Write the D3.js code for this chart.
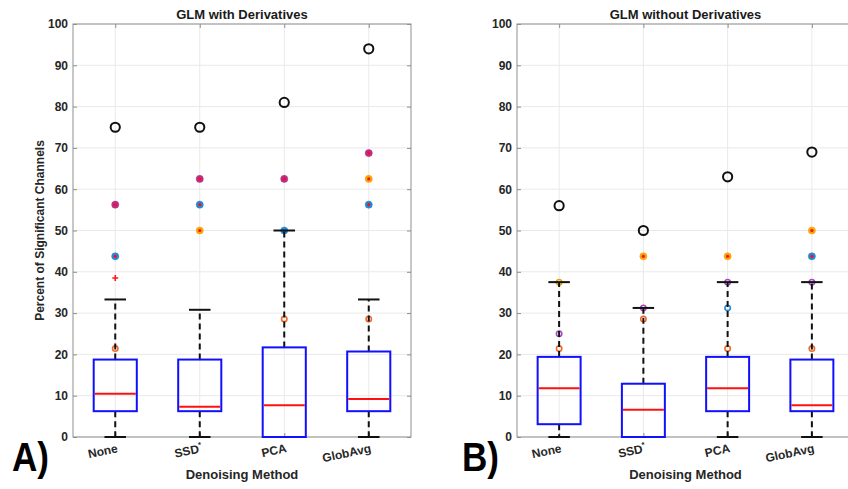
<!DOCTYPE html>
<html>
<head>
<meta charset="utf-8">
<script src="https://cdn.jsdelivr.net/npm/d3@7"></script>
<style>
html,body{margin:0;padding:0;background:#fff;}
svg text{font-family:"Liberation Sans",Arial,Helvetica,sans-serif;font-weight:bold;}
</style>
</head>
<body>
<svg id="chart" width="848" height="489"></svg>
<script>
// ---------- DATA ----------
const categories = ["None", "SSD", "PCA", "GlobAvg"];
const yTicks = [0, 10, 20, 30, 40, 50, 60, 70, 80, 90, 100];

// Panel A: GLM with Derivatives
const withLowWhisker  = [0, 0, 0, 0];
const withQ1          = [6.25, 6.25, 0, 6.25];
const withMedian      = [10.5, 7.3, 7.7, 9.2];
const withQ3          = [18.75, 18.75, 21.7, 20.7];
const withHighWhisker = [33.3, 30.8, 50, 33.3];
const withMarkers = [
  ["None", 75, "max"], ["None", 56.25, "magenta"], ["None", 43.75, "blue"], ["None", 38.5, "plus"], ["None", 21.4, "orangeOpen"],
  ["SSD", 75, "max"], ["SSD", 62.5, "magenta"], ["SSD", 56.25, "blue"], ["SSD", 50, "orange"],
  ["PCA", 81, "max"], ["PCA", 62.5, "magenta"], ["PCA", 50, "blueNoCenter"], ["PCA", 28.6, "orangeOpen"],
  ["GlobAvg", 94, "max"], ["GlobAvg", 68.75, "magenta"], ["GlobAvg", 62.5, "orange"], ["GlobAvg", 56.25, "blue"], ["GlobAvg", 28.6, "orangeOpen"]
];

// Panel B: GLM without Derivatives
const withoutLowWhisker  = [0, 0, 0, 0];
const withoutQ1          = [3.1, 0, 6.25, 6.25];
const withoutMedian      = [11.8, 6.6, 11.8, 7.7];
const withoutQ3          = [19.4, 12.9, 19.4, 18.75];
const withoutHighWhisker = [37.5, 31.25, 37.5, 37.5];
const withoutMarkers = [
  ["None", 56, "max"], ["None", 37.5, "yellowOpen"], ["None", 25, "purpleOpen"], ["None", 21.4, "orangeOpen"],
  ["SSD", 50, "max"], ["SSD", 43.75, "orange"], ["SSD", 31.25, "purpleOpen"], ["SSD", 28.6, "orangeOpen"],
  ["PCA", 63, "max"], ["PCA", 43.75, "orange"], ["PCA", 37.5, "purpleOpen"], ["PCA", 31.25, "blueOpen"], ["PCA", 21.4, "orangeOpen"],
  ["GlobAvg", 69, "max"], ["GlobAvg", 50, "orange"], ["GlobAvg", 43.75, "blue"], ["GlobAvg", 37.5, "purpleOpen"], ["GlobAvg", 21.4, "orangeOpen"]
];

// ---------- STYLE ----------
const markerStyle = {
  max:          {r: 4.6, fill: "none", stroke: "#111", sw: 2, center: false},
  magenta:      {r: 3.6, fill: "#b3318f", stroke: "#b3318f", sw: 0.5, center: true},
  blue:         {r: 3.6, fill: "#2389d6", stroke: "#2389d6", sw: 0.5, center: true},
  blueNoCenter: {r: 3.6, fill: "#2389d6", stroke: "#2389d6", sw: 0.5, center: false},
  orange:       {r: 3.6, fill: "#f7a608", stroke: "#f7a608", sw: 0.5, center: true},
  orangeOpen:   {r: 2.7, fill: "none", stroke: "#f06a2c", sw: 1.6, center: false},
  purpleOpen:   {r: 2.7, fill: "none", stroke: "#a44cbd", sw: 1.6, center: false},
  blueOpen:     {r: 2.7, fill: "none", stroke: "#2389d6", sw: 1.6, center: false},
  yellowOpen:   {r: 2.7, fill: "none", stroke: "#e6a400", sw: 1.6, center: false}
};

const svg = d3.select("#chart");

function drawPanel(p) {
  const x = d3.scalePoint().domain(categories).range([p.left, p.right]).padding(0.5);
  const y = d3.scaleLinear().domain([0, 100]).range([p.bottom, p.top]);
  const step = x.step();
  const boxHalf = step * 0.255;
  const capHalf = boxHalf * 0.5;
  const g = svg.append("g");

  // grid
  g.append("g").selectAll("line").data(yTicks).join("line")
    .attr("x1", p.left).attr("x2", p.right)
    .attr("y1", d => y(d)).attr("y2", d => y(d))
    .attr("stroke", "#e9e9e9").attr("stroke-width", 1);
  g.append("g").selectAll("line").data(categories).join("line")
    .attr("x1", d => x(d)).attr("x2", d => x(d))
    .attr("y1", p.top).attr("y2", p.bottom)
    .attr("stroke", "#e9e9e9").attr("stroke-width", 1);

  // frame
  g.append("rect").attr("x", p.left).attr("y", p.top)
    .attr("width", p.right - p.left).attr("height", p.bottom - p.top)
    .attr("fill", "none").attr("stroke", "#8f8f8f").attr("stroke-width", 1);

  // axes (MATLAB-style inward ticks)
  const yAxis = d3.axisLeft(y).tickValues(yTicks).tickSizeInner(-4).tickSizeOuter(0).tickPadding(5);
  const ay = g.append("g").attr("transform", `translate(${p.left},0)`).call(yAxis);
  ay.select(".domain").remove();
  ay.selectAll(".tick line").attr("stroke", "#8f8f8f");
  ay.selectAll(".tick text").attr("fill", "#262626").style("font-size", "12px");

  const yAxisR = d3.axisRight(y).tickValues(yTicks).tickSizeInner(-4).tickSizeOuter(0).tickFormat("");
  const ayr = g.append("g").attr("transform", `translate(${p.right},0)`).call(yAxisR);
  ayr.select(".domain").remove();
  ayr.selectAll(".tick line").attr("stroke", "#8f8f8f");

  const xAxisT = d3.axisTop(x).tickSizeInner(-4).tickSizeOuter(0).tickFormat("");
  const axt = g.append("g").attr("transform", `translate(0,${p.top})`).call(xAxisT);
  axt.select(".domain").remove();
  axt.selectAll(".tick line").attr("stroke", "#8f8f8f");

  const xAxisB = d3.axisBottom(x).tickSizeInner(-4).tickSizeOuter(0).tickFormat("");
  const axb = g.append("g").attr("transform", `translate(0,${p.bottom})`).call(xAxisB);
  axb.select(".domain").remove();
  axb.selectAll(".tick line").attr("stroke", "#8f8f8f");

  // x tick labels, rotated
  categories.forEach(c => {
    const t = g.append("text")
      .attr("transform", `translate(${x(c) + 3},${p.bottom + 15}) rotate(-12)`)
      .attr("text-anchor", "end").attr("fill", "#262626").style("font-size", "12px");
    if (c === "SSD") {
      t.append("tspan").text("SSD");
      t.append("tspan").attr("dy", -5).style("font-size", "8px").text("*");
    } else {
      t.text(c);
    }
  });

  const rows = categories.map((c, i) => ({
    c, lo: p.low[i], q1: p.q1[i], med: p.med[i], q3: p.q3[i], hi: p.high[i]
  }));

  // markers (drawn first so whiskers/caps sit on top)
  const mk = g.append("g");
  p.markers.forEach(([c, v, type]) => {
    const cx = x(c), cy = y(v);
    if (type === "plus") {
      mk.append("path").attr("d", `M${cx - 3},${cy}H${cx + 3}M${cx},${cy - 3}V${cy + 3}`)
        .attr("stroke", "#ff1a1a").attr("stroke-width", 1.6);
      return;
    }
    const s = markerStyle[type];
    mk.append("circle").attr("cx", cx).attr("cy", cy).attr("r", s.r)
      .attr("fill", s.fill).attr("stroke", s.stroke).attr("stroke-width", s.sw);
    if (s.center) {
      mk.append("circle").attr("cx", cx).attr("cy", cy).attr("r", 1.6).attr("fill", "#ff1010");
    }
  });

  // whiskers
  g.append("g").selectAll("line.wu").data(rows).join("line")
    .attr("x1", d => x(d.c)).attr("x2", d => x(d.c))
    .attr("y1", d => y(d.q3)).attr("y2", d => y(d.hi))
    .attr("stroke", "#111").attr("stroke-width", 2).attr("stroke-dasharray", "6,4");
  g.append("g").selectAll("line.wl").data(rows.filter(d => d.q1 > d.lo)).join("line")
    .attr("x1", d => x(d.c)).attr("x2", d => x(d.c))
    .attr("y1", d => y(d.q1)).attr("y2", d => y(d.lo))
    .attr("stroke", "#111").attr("stroke-width", 2).attr("stroke-dasharray", "6,4");
  // caps
  g.append("g").selectAll("line").data(rows).join("line")
    .attr("x1", d => x(d.c) - capHalf).attr("x2", d => x(d.c) + capHalf)
    .attr("y1", d => y(d.hi)).attr("y2", d => y(d.hi))
    .attr("stroke", "#111").attr("stroke-width", 2);
  g.append("g").selectAll("line").data(rows).join("line")
    .attr("x1", d => x(d.c) - capHalf).attr("x2", d => x(d.c) + capHalf)
    .attr("y1", d => y(d.lo)).attr("y2", d => y(d.lo))
    .attr("stroke", "#111").attr("stroke-width", 2);

  // boxes
  g.append("g").selectAll("rect").data(rows).join("rect")
    .attr("x", d => x(d.c) - boxHalf).attr("width", boxHalf * 2)
    .attr("y", d => y(d.q3)).attr("height", d => y(d.q1) - y(d.q3))
    .attr("fill", "none").attr("stroke", "#1010ff").attr("stroke-width", 2);
  // medians
  g.append("g").selectAll("line").data(rows).join("line")
    .attr("x1", d => x(d.c) - boxHalf + 1).attr("x2", d => x(d.c) + boxHalf - 1)
    .attr("y1", d => y(d.med)).attr("y2", d => y(d.med))
    .attr("stroke", "#ff1010").attr("stroke-width", 2);

  // titles
  g.append("text").attr("x", (p.left + p.right) / 2).attr("y", 19)
    .attr("text-anchor", "middle").attr("fill", "#1a1a1a").style("font-size", "13px").text(p.title);
  g.append("text").attr("x", (p.left + p.right) / 2).attr("y", 479)
    .attr("text-anchor", "middle").attr("fill", "#262626").style("font-size", "13px").text("Denoising Method");
  if (p.ylabel) {
    g.append("text").attr("transform", `translate(44,${(p.top + p.bottom) / 2}) rotate(-90)`)
      .attr("text-anchor", "middle").attr("fill", "#262626").style("font-size", "12px").text(p.ylabel);
  }
  g.append("text").attr("x", p.letterX).attr("y", 471)
    .attr("fill", "#000").style("font-size", "41px")
    .attr("textLength", 37).attr("lengthAdjust", "spacingAndGlyphs").text(p.letter);
}

drawPanel({
  left: 73, right: 411, top: 24, bottom: 437,
  low: withLowWhisker, q1: withQ1, med: withMedian, q3: withQ3, high: withHighWhisker,
  markers: withMarkers, title: "GLM with Derivatives",
  ylabel: "Percent of Significant Channels", letter: "A)", letterX: 12
});
drawPanel({
  left: 517, right: 854, top: 24, bottom: 437,
  low: withoutLowWhisker, q1: withoutQ1, med: withoutMedian, q3: withoutQ3, high: withoutHighWhisker,
  markers: withoutMarkers, title: "GLM without Derivatives",
  ylabel: null, letter: "B)", letterX: 462
});
</script>
</body>
</html>
